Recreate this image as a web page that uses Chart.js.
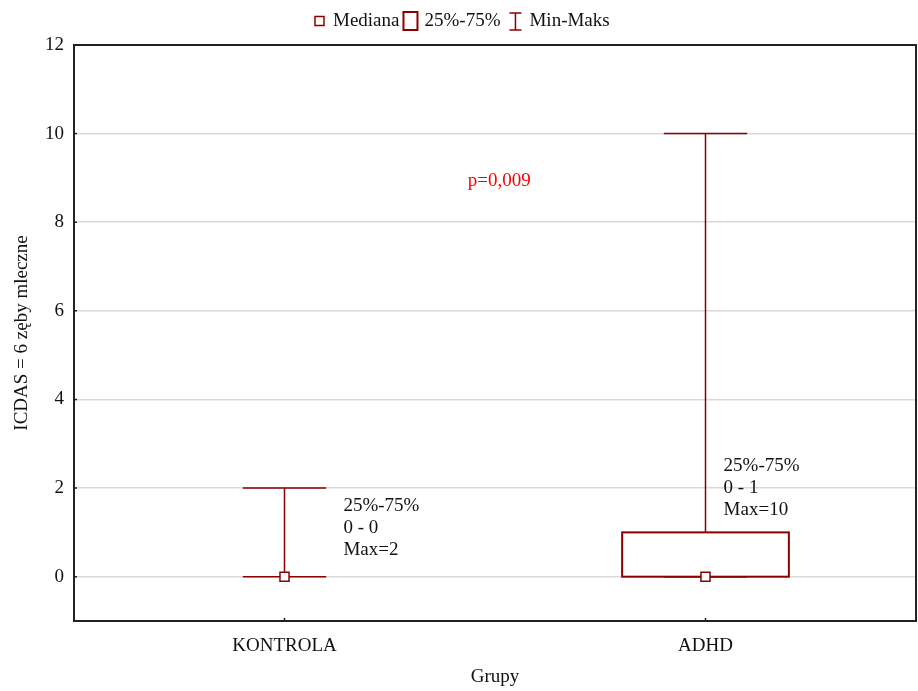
<!DOCTYPE html>
<html>
<head>
<meta charset="utf-8">
<script src="https://cdn.jsdelivr.net/npm/chart.js@4.4.1/dist/chart.umd.min.js"></script>
<style>
  body { margin: 0; background: #fff; }
  #wykres { display: block; }
</style>
</head>
<body>
<canvas id="wykres" width="918" height="691"></canvas>
<script>
// dane
var grupy = ["KONTROLA", "ADHD"];
var mediany = [0, 0];
var q25 = [0, 0];
var q75 = [0, 1];
var minima = [0, 0];
var maksima = [2, 10];
var yTicks = [0, 2, 4, 6, 8, 10, 12];
var opisy = [
    ["25%-75%", "0 - 0", "Max=2"],
    ["25%-75%", "0 - 1", "Max=10"]
];
var pTekst = "p=0,009";

var kolor = "#8b0000";
var czcionka = "19px 'Liberation Serif', 'Times New Roman', serif";

// rysowanie pudełek i wąsów na podstawie skal
var pudelka = {
    id: "pudelka",
    beforeDatasetsDraw: function(chart) {
        var ctx = chart.ctx;
        var xs = chart.scales.x, ys = chart.scales.y;
        ctx.save();
        ctx.strokeStyle = kolor;
        for (var i = 0; i < grupy.length; i++) {
            var xc = xs.getPixelForValue(i + 1);
            var bw = xs.getPixelForValue(i + 1.198) - xc;
            var cw = xs.getPixelForValue(i + 1.099) - xc;
            var yMin = ys.getPixelForValue(minima[i]);
            var yMax = ys.getPixelForValue(maksima[i]);
            var yQ1 = ys.getPixelForValue(q25[i]);
            var yQ3 = ys.getPixelForValue(q75[i]);
            ctx.lineWidth = 1.5;
            ctx.beginPath();
            // wąs górny
            ctx.moveTo(xc, yQ3); ctx.lineTo(xc, yMax);
            ctx.moveTo(xc - cw, yMax); ctx.lineTo(xc + cw, yMax);
            // wąs dolny
            ctx.moveTo(xc, yQ1); ctx.lineTo(xc, yMin);
            ctx.moveTo(xc - cw, yMin); ctx.lineTo(xc + cw, yMin);
            ctx.stroke();
            if (q75[i] > q25[i]) {
                ctx.lineWidth = 2;
                ctx.strokeRect(xc - bw, yQ3, bw * 2, yQ1 - yQ3);
            }
        }
        ctx.restore();
    },
    afterDraw: function(chart) {
        var ctx = chart.ctx;
        var a = chart.chartArea;
        var xs = chart.scales.x, ys = chart.scales.y;
        ctx.save();
        // ramka
        ctx.strokeStyle = "#222";
        ctx.lineWidth = 2;
        ctx.strokeRect(a.left, a.top, a.right - a.left, a.bottom - a.top);
        // znaczniki osi
        ctx.lineWidth = 1.5;
        ctx.beginPath();
        yTicks.forEach(function(v) {
            var y = ys.getPixelForValue(v);
            ctx.moveTo(a.left, y); ctx.lineTo(a.left + 3, y);
        });
        for (var i = 0; i < grupy.length; i++) {
            var x = xs.getPixelForValue(i + 1);
            ctx.moveTo(x, a.bottom); ctx.lineTo(x, a.bottom - 3);
        }
        ctx.stroke();

        ctx.font = czcionka;
        ctx.fillStyle = "#111";
        ctx.textBaseline = "middle";
        // opisy przy pudełkach
        var poz = [[1.14, 1.6], [2.043, 2.5]];
        for (var j = 0; j < opisy.length; j++) {
            var tx = xs.getPixelForValue(poz[j][0]);
            var ty = ys.getPixelForValue(poz[j][1]);
            ctx.textAlign = "left";
            opisy[j].forEach(function(t, k) {
                ctx.fillText(t, tx, ty + k * 22);
            });
        }
        // p-wartość
        ctx.fillStyle = "#ff0000";
        ctx.textAlign = "center";
        ctx.fillText(pTekst, xs.getPixelForValue(1.51), ys.getPixelForValue(8.93));

        // tytuły osi
        ctx.fillStyle = "#111";
        ctx.fillText("Grupy", (a.left + a.right) / 2, 677);
        ctx.save();
        ctx.translate(22, (a.top + a.bottom) / 2);
        ctx.rotate(-Math.PI / 2);
        ctx.fillText("ICDAS = 6 zęby mleczne", 0, 0);
        ctx.restore();

        // legenda
        var ly = 21;
        var lx = 315;
        ctx.textAlign = "left";
        ctx.strokeStyle = kolor;
        ctx.lineWidth = 1.5;
        ctx.fillStyle = "#fff";
        ctx.fillRect(lx, ly - 4.5, 9, 9);
        ctx.strokeRect(lx, ly - 4.5, 9, 9);
        lx += 18;
        ctx.fillStyle = "#111";
        ctx.fillText("Mediana", lx, ly);
        lx += ctx.measureText("Mediana").width + 3;
        ctx.lineWidth = 2;
        ctx.strokeRect(lx + 1, ly - 9, 14, 18);
        lx += 22;
        ctx.fillText("25%-75%", lx, ly);
        lx += ctx.measureText("25%-75%").width + 15;
        ctx.lineWidth = 1.5;
        ctx.beginPath();
        ctx.moveTo(lx - 6, ly - 8); ctx.lineTo(lx + 6, ly - 8);
        ctx.moveTo(lx, ly - 8); ctx.lineTo(lx, ly + 9);
        ctx.moveTo(lx - 6, ly + 9); ctx.lineTo(lx + 6, ly + 9);
        ctx.stroke();
        lx += 14;
        ctx.fillText("Min-Maks", lx, ly);
        ctx.restore();
    }
};

var dane = grupy.map(function(g, i) { return { x: i + 1, y: mediany[i] }; });

new Chart(document.getElementById("wykres"), {
    type: "scatter",
    data: {
        datasets: [{
            label: "Mediana",
            data: dane,
            pointStyle: "rect",
            pointRadius: 6.4,
            pointHoverRadius: 6.4,
            borderWidth: 1.5,
            borderColor: kolor,
            backgroundColor: "#fff"
        }]
    },
    options: {
        responsive: false,
        animation: false,
        layout: { autoPadding: false, padding: { left: 0, top: 45, right: 2, bottom: 0 } },
        plugins: {
            legend: { display: false },
            tooltip: { enabled: false }
        },
        scales: {
            x: {
                type: "linear",
                min: 0.5,
                max: 2.5,
                afterBuildTicks: function(s) {
                    s.ticks = grupy.map(function(g, i) { return { value: i + 1 }; });
                },
                afterFit: function(s) {
                    s.height = 70;
                    s.paddingLeft = 0;
                    s.paddingRight = 0;
                },
                ticks: {
                    padding: 6,
                    color: "#111",
                    font: { family: "'Liberation Serif', 'Times New Roman', serif", size: 19 },
                    callback: function(v) { return grupy[v - 1]; }
                },
                grid: { display: false },
                border: { display: false }
            },
            y: {
                min: -1,
                max: 12,
                afterBuildTicks: function(s) {
                    s.ticks = yTicks.map(function(v) { return { value: v }; });
                },
                afterFit: function(s) {
                    s.width = 74;
                    s.paddingTop = 0;
                    s.paddingBottom = 0;
                },
                ticks: {
                    padding: 10,
                    color: "#111",
                    font: { family: "'Liberation Serif', 'Times New Roman', serif", size: 19 }
                },
                grid: { color: "#d9d9d9", lineWidth: 1.5, drawTicks: false },
                border: { display: false }
            }
        }
    },
    plugins: [pudelka]
});
</script>
</body>
</html>
